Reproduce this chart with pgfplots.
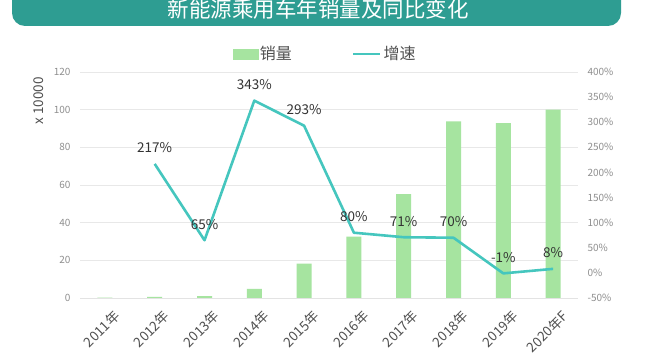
\documentclass[border=0pt]{standalone}
\usepackage{fontspec}
\setmainfont{Noto Sans CJK SC}
\usepackage{pgfplots}
\pgfplotsset{compat=1.18}
\definecolor{barc}{HTML}{A6E4A0}
\definecolor{linec}{HTML}{45C6BE}
\definecolor{banner}{HTML}{2E9D92}
\definecolor{gridc}{HTML}{E8E8E8}
\definecolor{tickc}{HTML}{8F8F8F}
\definecolor{labc}{HTML}{505050}
\begin{document}
\begin{tikzpicture}[x=1pt,y=1pt]
\useasboundingbox (0,0) rectangle (650,358);
\clip (0,0) rectangle (650,358);
\fill[white] (0,0) rectangle (650,358);
\fill[banner, rounded corners=13pt] (12,332) rectangle (621,390);
\node[text=white, font=\fontsize{21.5}{24}\selectfont, anchor=center] at (318,349) {新能源乘用车年销量及同比变化};
\begin{axis}[
  at={(80pt,60pt)}, anchor=south west, scale only axis,
  width=498pt, height=226pt,
  xmin=-0.5, xmax=9.5, ymin=0, ymax=120,
  ytick={0,20,...,120},
  xtick={0,...,9},
  xticklabels={2011年,2012年,2013年,2014年,2015年,2016年,2017年,2018年,2019年,2020年F},
  axis x line*=bottom, axis y line*=left,
  y axis line style={draw=none},
  x axis line style={draw=gridc!80!black!40, line width=0.8pt, -},
  major tick length=0pt,
  ymajorgrids, grid style={draw=gridc, line width=0.7pt},
  /pgf/number format/assume math mode=true,
  yticklabel style={font=\fontsize{10}{12}\selectfont, text=tickc, xshift=-6pt},
  xticklabel style={font=\fontsize{13.5}{15}\selectfont, text=labc, rotate=45, anchor=north east, xshift=1pt, yshift=-10pt},
  ylabel={x\ 10000},
  ylabel style={at={(axis description cs:-0.082,0.872)}, anchor=center, font=\fontsize{13.5}{15}\selectfont, text=labc},
]
\addplot[ybar, bar width=15pt, fill=barc, draw=none] coordinates {
(0,0.2) (1,0.6) (2,1.0) (3,4.8) (4,18.3) (5,32.6) (6,55.2) (7,93.8) (8,92.9) (9,100)};
\end{axis}
\begin{axis}[
  at={(80pt,60pt)}, anchor=south west, scale only axis,
  width=498pt, height=226pt,
  xmin=-0.5, xmax=9.5, ymin=-50, ymax=400,
  ytick={-50,0,...,400},
  axis y line*=right, axis x line=none,
  y axis line style={draw=none},
  major tick length=0pt,
  /pgf/number format/assume math mode=true,
  yticklabel={\pgfmathprintnumber{\tick}\%},
  yticklabel style={font=\fontsize{10}{12}\selectfont, text=tickc, anchor=west, xshift=6pt},
  legend style={draw=none, fill=none, at={(0.492,1.08)}, anchor=center,
    legend columns=2, font=\fontsize{16}{18}\selectfont, text=labc,
    /tikz/every even column/.append style={column sep=58pt},
    inner sep=0pt},
  legend cell align=left,
]
\addlegendimage{legend image code/.code={\fill[barc] (0pt,-5pt) rectangle (25pt,5pt);}}
\addlegendentry{销量}
\addplot[color=linec, line width=2.6pt, line join=round,
  nodes near coords, point meta=explicit symbolic,
  every node near coord/.style={anchor=center, yshift=16pt, font=\fontsize{13.5}{15}\selectfont, text=black!80},
  legend image code/.code={\draw[linec, line width=2.6pt] (0pt,0pt) -- (27pt,0pt);}]
coordinates {
(1,217) [217\%]
(2,65) [65\%]
(3,343) [343\%]
(4,293) [293\%]
(5,80) [80\%]
(6,71) [71\%]
(7,70) [70\%]
(8,-1) [-1\%]
(9,8) [8\%]
};
\addlegendentry{增速}
\end{axis}
\end{tikzpicture}
\end{document}
